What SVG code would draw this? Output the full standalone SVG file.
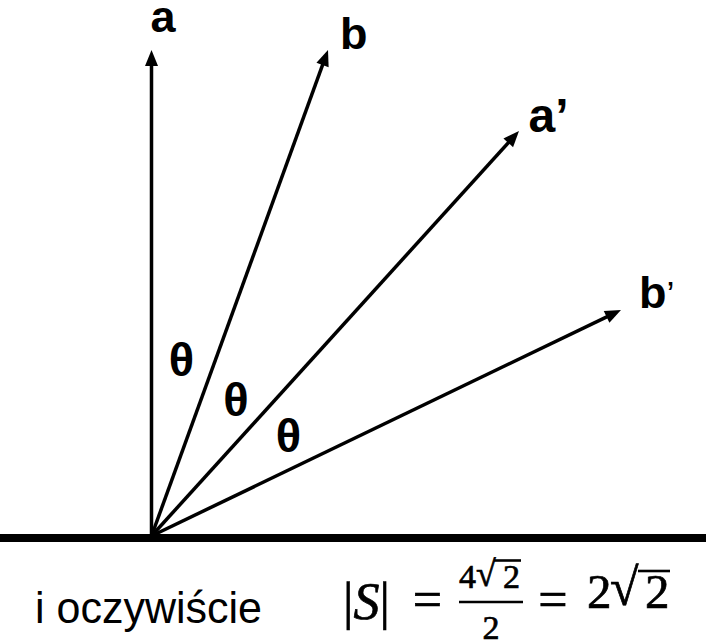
<svg xmlns="http://www.w3.org/2000/svg" width="706" height="644" viewBox="0 0 706 644">
<style>
.lbl{font-family:"Liberation Sans",Arial,sans-serif;font-weight:bold;fill:#000}
.vec{stroke:#000;stroke-width:3.5;fill:none;marker-end:url(#ah)}
.txt{font-family:"Liberation Sans",Arial,sans-serif;fill:#000}
.math{font-family:"Liberation Serif","DejaVu Serif",serif;fill:#000;stroke:#000;stroke-width:0.7}
.bar{stroke:#000;stroke-width:2.6}
</style>
<defs>
<marker id="ah" markerUnits="userSpaceOnUse" markerWidth="17" markerHeight="13" refX="10" refY="6.5" orient="auto" overflow="visible">
<path d="M0,0 L16,6.5 L0,13 Z" fill="#000"/>
</marker>
</defs>
<rect width="706" height="644" fill="#fff"/>
<g id="ground"><line x1="0" y1="538" x2="706" y2="538" stroke="#000" stroke-width="8"/></g>
<g id="connectors">
<line class="vec" x1="151.5" y1="536" x2="151.5" y2="56"/>
<line class="vec" x1="151.5" y1="536" x2="325.95" y2="55.64"/>
<line class="vec" x1="151.5" y1="536" x2="514.97" y2="135.44"/>
<line class="vec" x1="151.5" y1="536" x2="615.6" y2="312.6"/>
</g>
<g id="label-a"><text class="lbl" x="150.5" y="32" font-size="45">a</text></g>
<g id="label-b"><text class="lbl" x="340" y="49" font-size="45">b</text></g>
<g id="label-a2"><text class="lbl" x="528.5" y="132" font-size="48">a’</text></g>
<g id="label-b2"><text class="lbl" x="639" y="308" font-size="45">b<tspan font-size="36" font-weight="normal">’</tspan></text></g>
<g id="theta1"><text class="lbl" x="181.5" y="376" font-size="47" text-anchor="middle">θ</text></g>
<g id="theta2"><text class="lbl" x="236" y="416" font-size="47" text-anchor="middle">θ</text></g>
<g id="theta3"><text class="lbl" x="288.5" y="452" font-size="47" text-anchor="middle">θ</text></g>
<g id="caption">
<text class="txt" x="35" y="623" font-size="44" textLength="227" lengthAdjust="spacingAndGlyphs">i oczywiście</text>
<text class="math" x="343" y="619" font-size="52">|<tspan font-style="italic">S</tspan>|</text>
<text class="math" x="427.5" y="617" font-size="52" text-anchor="middle">=</text>
<text class="math" x="459" y="588" font-size="34">4</text>
<text class="math" x="476" y="585.5" font-size="36">√</text>
<text class="math" x="503" y="588" font-size="34">2</text>
<line class="bar" x1="494" y1="560.5" x2="521" y2="560.5" stroke-width="2"/>
<line class="bar" x1="459" y1="602" x2="523" y2="602" stroke-width="3"/>
<text class="math" x="491" y="639" font-size="34" text-anchor="middle">2</text>
<text class="math" x="553" y="617" font-size="52" text-anchor="middle">=</text>
<text class="math" x="587" y="608" font-size="49">2</text>
<text class="math" x="610" y="605" font-size="52">√</text>
<text class="math" x="645" y="608" font-size="49">2</text>
<line class="bar" x1="638" y1="571" x2="670" y2="571"/>
</g>
</svg>
